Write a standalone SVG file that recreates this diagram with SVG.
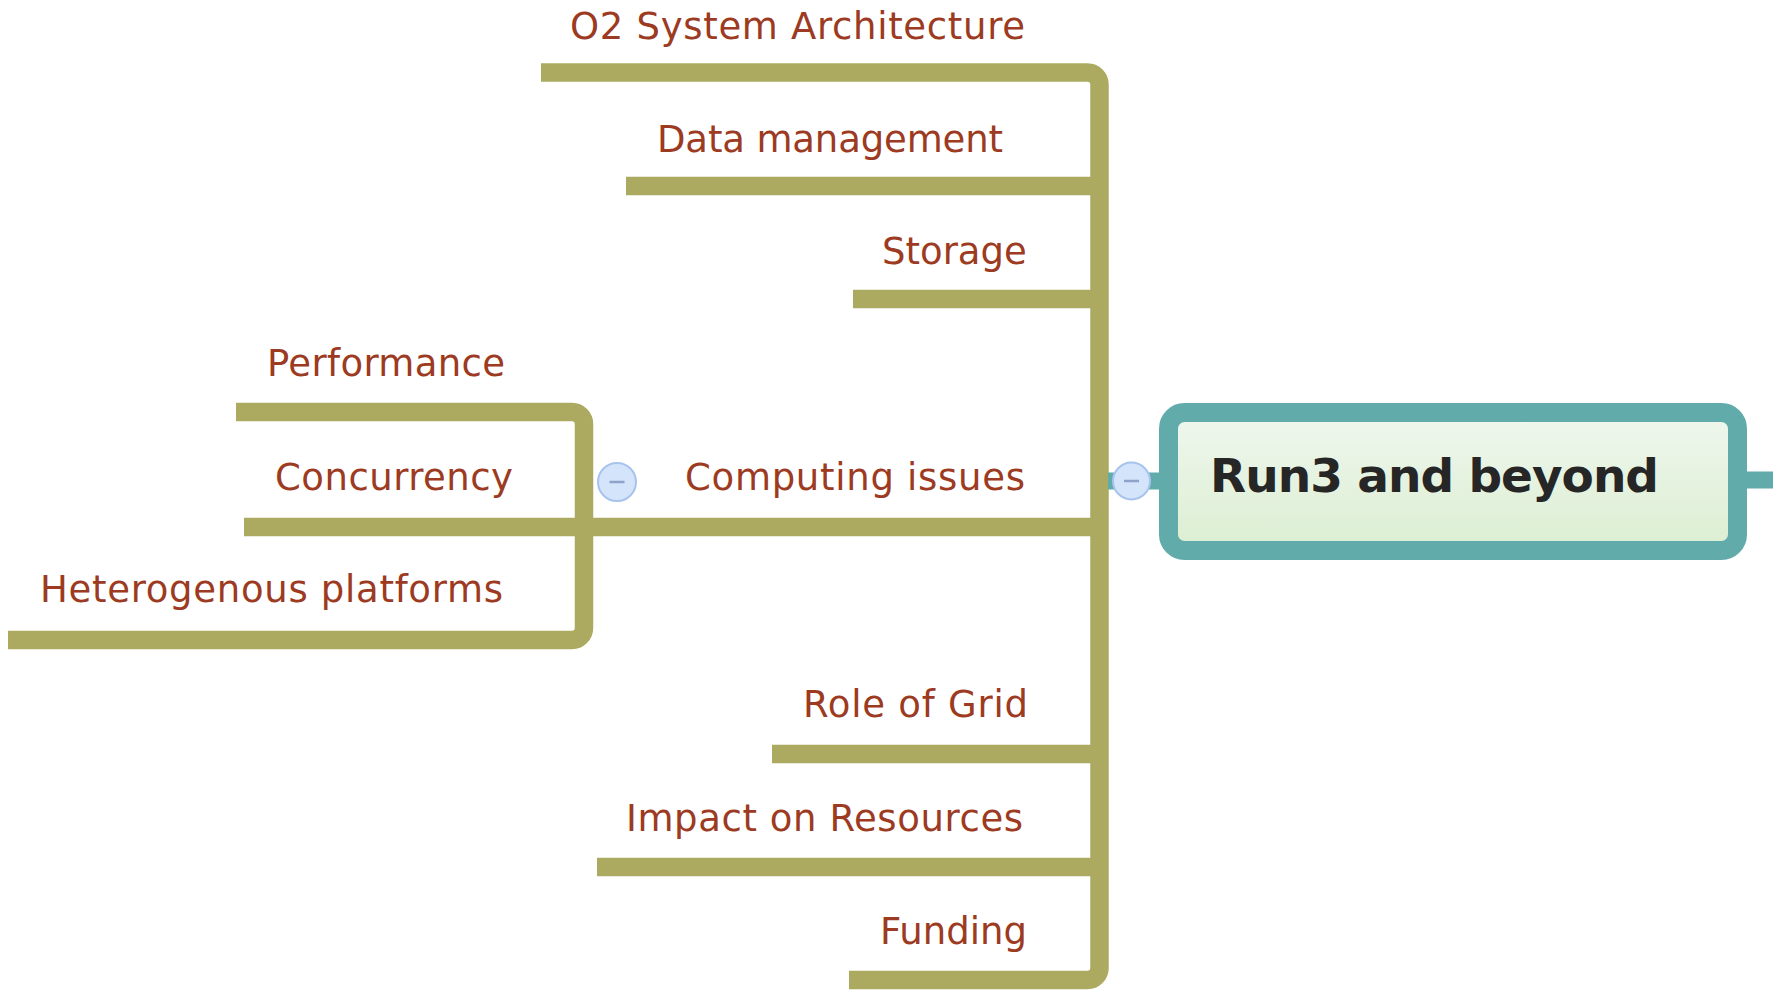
<svg xmlns="http://www.w3.org/2000/svg" width="1773" height="990" viewBox="0 0 1773 990">
  <defs>
    <linearGradient id="rootFill" x1="0" y1="0" x2="0" y2="1">
      <stop offset="0" stop-color="#f0f7ee"/>
      <stop offset="1" stop-color="#dbeed2"/>
    </linearGradient>
    <style>
      .branch { fill: none; stroke: #abaa60; stroke-width: 18.5; stroke-linecap: butt; stroke-linejoin: round; }
      .label { font-family: "DejaVu Sans", "Liberation Sans", sans-serif; font-size: 37px; fill: #9c3a22; }
      .title { font-family: "DejaVu Sans", "Liberation Sans", sans-serif; font-size: 47px; font-weight: bold; fill: #262626; }
      .toggle circle { fill: #d4e4fb; stroke: #a8c3ee; stroke-width: 2; }
      .toggle line { stroke: #8da3c9; stroke-width: 2.5; }
      .link { stroke: #62abab; stroke-width: 17; }
    </style>
  </defs>
  <rect width="1773" height="990" fill="#ffffff"/>

  <!-- branch lines -->
  <g id="connectors">
    <!-- main trunk with top and bottom branches -->
    <path class="branch" d="M 541 72.5 H 1087.5 A 12 12 0 0 1 1099.5 84.5 V 968 A 12 12 0 0 1 1087.5 980 H 849"/>
    <line class="branch" x1="626" y1="186" x2="1099.5" y2="186"/>
    <line class="branch" x1="853" y1="299" x2="1099.5" y2="299"/>
    <line class="branch" x1="244" y1="527" x2="1099.5" y2="527"/>
    <line class="branch" x1="772" y1="754" x2="1099.5" y2="754"/>
    <line class="branch" x1="597" y1="867" x2="1099.5" y2="867"/>
    <!-- sub-trunk of "Computing issues" -->
    <path class="branch" d="M 236 412 H 572 A 12 12 0 0 1 584 424 V 628 A 12 12 0 0 1 572 640 H 8"/>
    <!-- root link stubs -->
    <line class="link" x1="1108" y1="481" x2="1162" y2="481"/>
    <line class="link" x1="1745" y1="480" x2="1773" y2="480"/>
  </g>

  <g id="root">
    <rect x="1168.5" y="412.5" width="569" height="138" rx="16" ry="16" fill="url(#rootFill)" stroke="#62abab" stroke-width="19"/>
    <text class="title" x="1210" y="492" textLength="449">Run3 and beyond</text>
  </g>

  <g id="toggle-root" class="toggle">
    <circle cx="1131.5" cy="481" r="18.5"/>
    <line x1="1124" y1="481" x2="1139" y2="481"/>
  </g>

  <g id="node-o2"><text class="label" x="570" y="39" textLength="455">O2 System Architecture</text></g>
  <g id="node-data"><text class="label" x="657" y="152" textLength="346">Data management</text></g>
  <g id="node-storage"><text class="label" x="882" y="264">Storage</text></g>
  <g id="node-computing"><text class="label" x="685" y="490" textLength="340">Computing issues</text></g>
  <g id="toggle-computing" class="toggle">
    <circle cx="617" cy="482" r="19"/>
    <line x1="609.5" y1="482" x2="624.5" y2="482"/>
  </g>
  <g id="node-performance"><text class="label" x="267" y="376" textLength="238">Performance</text></g>
  <g id="node-concurrency"><text class="label" x="275" y="490" textLength="238">Concurrency</text></g>
  <g id="node-heterogenous"><text class="label" x="40" y="602" textLength="463">Heterogenous platforms</text></g>
  <g id="node-grid"><text class="label" x="803" y="717" textLength="225">Role of Grid</text></g>
  <g id="node-resources"><text class="label" x="626" y="831" textLength="397">Impact on Resources</text></g>
  <g id="node-funding"><text class="label" x="880" y="944">Funding</text></g>
</svg>
